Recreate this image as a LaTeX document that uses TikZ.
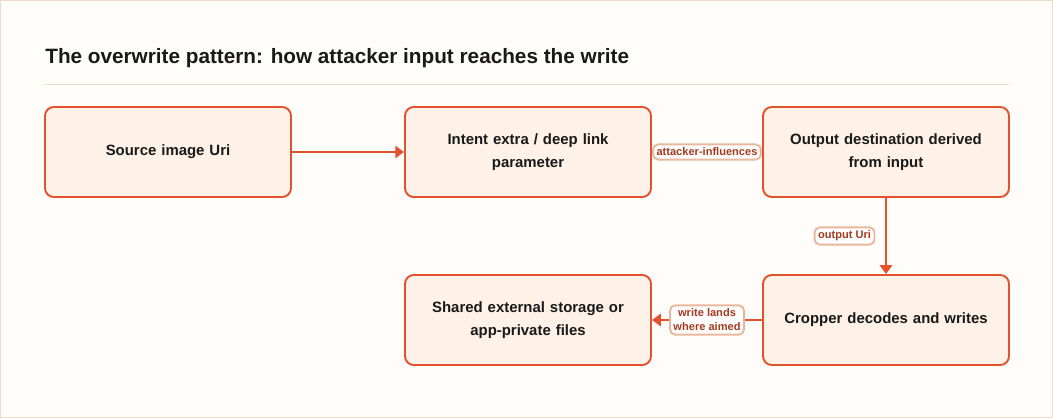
\documentclass[tikz,border=0pt]{standalone}
\usepackage{fontspec}
\setmainfont{Liberation Sans}
\usetikzlibrary{arrows.meta}
\definecolor{edge}{HTML}{E4512F}
\definecolor{boxfill}{HTML}{FDF1E8}
\definecolor{labtext}{HTML}{A33A1E}
\definecolor{labdraw}{HTML}{E8B79C}
\definecolor{page}{HTML}{FFFDF9}
\definecolor{frame}{HTML}{EFDCC8}
\tikzset{
  stage/.style={draw=edge, line width=1.1pt, fill=boxfill, rounded corners=5pt,
    minimum width=246*0.02cm, minimum height=90*0.02cm, text width=4.2cm,
    align=center, font=\bfseries\fontsize{8.5}{13}\selectfont, text=black!90},
  flow/.style={draw=edge, line width=1.1pt, -{Triangle[length=5pt,width=7pt]}},
  tag/.style={draw=labdraw, fill=white, rounded corners=3pt, inner sep=2pt,
    align=center, font=\bfseries\fontsize{6.3}{8}\selectfont, text=labtext}
}
\begin{document}
\begin{tikzpicture}[x=0.02cm,y=-0.02cm]
  \path[fill=page, draw=frame] (0.5,0.5) rectangle (1052.5,417.5);
  \useasboundingbox (0,0) rectangle (1053,418);
  % title
  \node[anchor=west, font=\bfseries\fontsize{11.8}{14}\selectfont, text=black!90, inner sep=0pt]
    (title) at (45,58) {The overwrite pattern: how attacker input reaches the write};
  \draw[frame] (45,84) -- (1009,84);
  % stages
  \node[stage] (src) at (168,152) {Source image Uri};
  \node[stage] (intent) at (528,152) {Intent extra / deep link\\parameter};
  \node[stage] (out) at (886,152) {Output destination derived\\from input};
  \node[stage] (crop) at (886,320) {Cropper decodes and writes};
  \node[stage] (store) at (528,320) {Shared external storage or\\app-private files};
  % connectors
  \draw[flow] (src) -- (intent);
  \draw[flow] (intent) -- node[tag] {attacker-influences} (out);
  \draw[flow] (out) -- node[tag, left=6pt] {output Uri} (crop);
  \draw[flow] (crop) -- node[tag] {write lands\\where aimed} (store);
\end{tikzpicture}
\end{document}
